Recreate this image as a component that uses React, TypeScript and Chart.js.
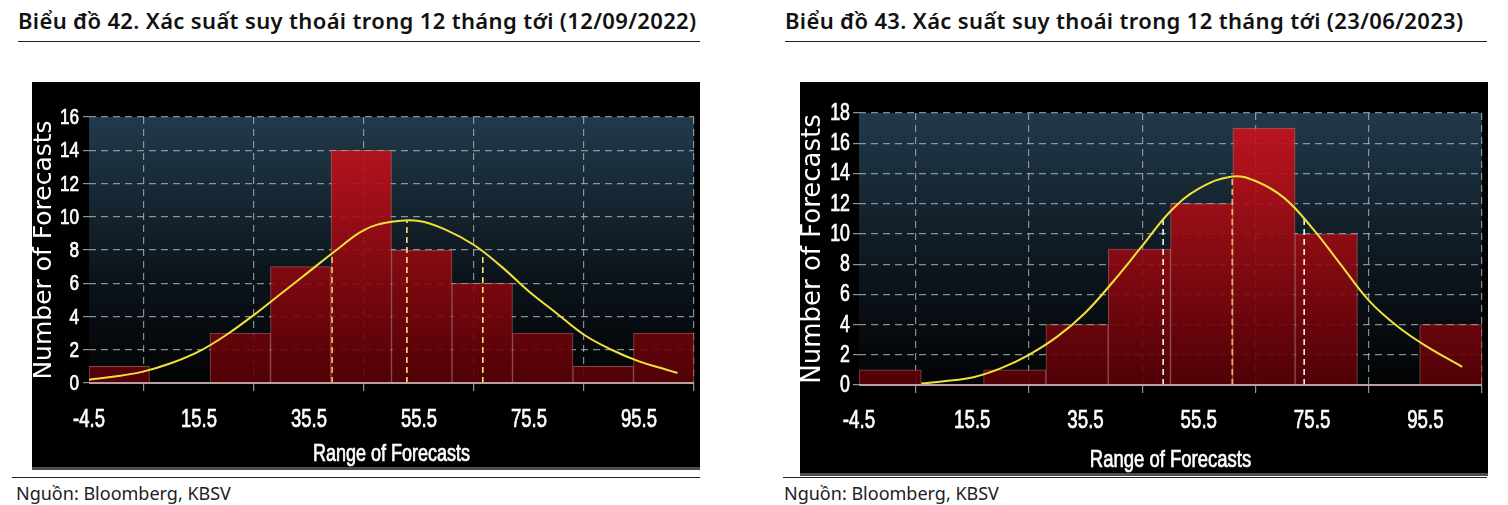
import { useEffect, useRef } from 'react';
import { Chart, registerables } from 'chart.js';

Chart.register(...registerables);

// shared x axis of both histograms
const X_TICKS = [-4.5, 15.5, 35.5, 55.5, 75.5, 95.5];
const BIN_CENTERS = [1, 12, 23, 34, 45, 56, 67, 78, 89, 100];

// Biểu đồ 42 (12/09/2022)
const COUNTS_2022 = [1, 0, 3, 7, 14, 8, 6, 3, 1, 3];
const CURVE_X_2022 = [-4.5, 0.5, 5.5, 10.5, 15.5, 20.5, 25.5, 30.5, 35.5, 40.5, 45.5, 50.5, 55.5, 60.5, 65.5, 70.5, 75.5, 80.5, 85.5, 90.5, 95.5, 100.5, 102.5];
const CURVE_Y_2022 = [0.2, 0.4, 0.7, 1.2, 1.9, 2.9, 4.1, 5.4, 6.7, 8.0, 9.2, 9.7, 9.75, 9.2, 8.3, 7.0, 5.5, 4.2, 2.9, 2.0, 1.3, 0.8, 0.6];
const QUART_X_2022 = [39.7, 53.3, 67.1];
const QUART_Y_2022 = [7.8, 9.8, 7.8];

// Biểu đồ 43 (23/06/2023)
const COUNTS_2023 = [1, 0, 1, 4, 9, 12, 17, 10, 0, 4];
const CURVE_X_2023 = [6.5, 10.5, 15.5, 20.5, 25.5, 30.5, 35.5, 40.5, 45.5, 50.5, 55.5, 61.4, 65.5, 70.5, 75.5, 80.5, 85.5, 90.5, 95.5, 102];
const CURVE_Y_2023 = [0.1, 0.25, 0.5, 1.1, 2.0, 3.2, 4.8, 6.9, 9.2, 11.5, 13.0, 13.8, 13.5, 12.4, 10.4, 8.0, 5.6, 3.9, 2.6, 1.2];
const QUART_X_2023 = [49.2, 61.4, 74.1];
const QUART_Y_2023 = [11.2, 13.8, 11.2];

const TEXT_FONT = "'Noto Sans', 'Open Sans', sans-serif";
const NARROW_BASE = "'Liberation Sans', Arial, sans-serif";

const backdrop = {
  id: 'backdrop',
  beforeDraw(chart: any) {
    const { ctx, chartArea: a } = chart;
    const g = ctx.createLinearGradient(0, a.top, 0, a.bottom);
    g.addColorStop(0, '#213a4b');
    g.addColorStop(0.6, '#0c141b');
    g.addColorStop(1, '#020304');
    ctx.save();
    ctx.fillStyle = g;
    ctx.fillRect(a.left, a.top, a.right - a.left, a.bottom - a.top);
    ctx.restore();
  },
  afterDatasetsDraw(chart: any) {
    const { ctx, chartArea: a } = chart;
    const y = chart.scales.y.getPixelForValue(0);
    ctx.save();
    ctx.strokeStyle = '#b8a0a0';
    ctx.lineWidth = 2;
    ctx.beginPath();
    ctx.moveTo(a.left, y);
    ctx.lineTo(a.right, y);
    ctx.stroke();
    ctx.restore();
  },
};

// Bloomberg uses a very condensed face; squeeze a regular sans horizontally
function narrowText(ctx: CanvasRenderingContext2D, text: string, x: number, y: number, size: number, sx: number, align: CanvasTextAlign) {
  ctx.save();
  ctx.translate(x, y);
  ctx.scale(sx, 1);
  ctx.font = `${size}px ${NARROW_BASE}`;
  ctx.textAlign = align;
  ctx.textBaseline = 'alphabetic';
  ctx.fillStyle = '#ffffff';
  ctx.strokeStyle = '#ffffff';
  ctx.lineWidth = 0.7;
  ctx.fillText(text, 0, 0);
  ctx.strokeText(text, 0, 0);
  ctx.restore();
}

interface HistProps {
  counts: number[];
  curveX: number[];
  curveY: number[];
  qx: number[];
  qy: number[];
  qColors: string[];
  yMax: number;
  width: number;
  height: number;
  pad: { left: number; top: number; right: number; bottom: number };
  yTitleSize: number;
  yLab: { size: number; sx: number; dx: number; dy: number };
  xLab: { size: number; sx: number; dy: number };
  xTitle: { size: number; sx: number; dy: number };
}

function HistChart(p: HistProps) {
  const canvasRef = useRef<HTMLCanvasElement>(null);
  const chartRef = useRef<Chart | null>(null);

  useEffect(() => {
    if (!canvasRef.current) return;
    if (chartRef.current) chartRef.current.destroy();

    const barFill = (c: any) => {
      const a = c.chart.chartArea;
      if (!a) return '#900';
      const g = c.chart.ctx.createLinearGradient(0, a.top, 0, a.bottom);
      g.addColorStop(0, 'rgba(210,18,28,0.9)');
      g.addColorStop(1, 'rgba(88,0,6,0.9)');
      return g;
    };

    const labels = {
      id: 'narrowLabels',
      afterDraw(chart: any) {
        const { ctx, chartArea: a, scales } = chart;
        scales.x.ticks.forEach((t: any) => {
          narrowText(ctx, String(t.value), scales.x.getPixelForValue(t.value), a.bottom + p.xLab.dy, p.xLab.size, p.xLab.sx, 'center');
        });
        scales.y.ticks.forEach((t: any) => {
          narrowText(ctx, String(t.value), a.left - p.yLab.dx, scales.y.getPixelForValue(t.value) + p.yLab.dy, p.yLab.size, p.yLab.sx, 'right');
        });
        narrowText(ctx, 'Range of Forecasts', (a.left + a.right) / 2, a.bottom + p.xTitle.dy, p.xTitle.size, p.xTitle.sx, 'center');
      },
    };

    const quartiles = p.qx.map((x, i) => ({
      type: 'line' as const,
      data: [{ x, y: 0 }, { x, y: p.qy[i] }],
      borderColor: p.qColors[i],
      borderWidth: 1.6,
      borderDash: [6, 4],
      pointRadius: 0,
      order: 1,
    }));

    chartRef.current = new Chart(canvasRef.current, {
      type: 'bar',
      data: {
        datasets: [
          {
            type: 'line',
            data: p.curveX.map((x, i) => ({ x, y: p.curveY[i] })),
            borderColor: '#f0e236',
            borderWidth: 2,
            tension: 0.4,
            pointRadius: 0,
            order: 0,
          },
          ...quartiles,
          {
            type: 'bar',
            data: BIN_CENTERS.map((x, i) => ({ x, y: p.counts[i] })),
            backgroundColor: barFill,
            borderColor: 'rgba(225,120,120,0.55)',
            borderWidth: 1,
            barPercentage: 1,
            categoryPercentage: 1,
            order: 2,
          },
        ] as any,
      },
      options: {
        animation: false,
        responsive: false,
        maintainAspectRatio: false,
        layout: { padding: { top: p.pad.top, right: p.pad.right, left: 0, bottom: 0 } },
        plugins: { legend: { display: false }, tooltip: { enabled: false } },
        scales: {
          x: {
            type: 'linear',
            min: -4.5,
            max: 105.5,
            offset: false,
            afterBuildTicks: (s: any) => { s.ticks = X_TICKS.map(v => ({ value: v })); },
            afterFit: (s: any) => { s.height = p.pad.bottom; },
            grid: { color: 'rgba(175,186,194,0.75)', lineWidth: 1.2, tickLength: 8, tickColor: 'rgba(175,186,194,0.8)' },
            border: { display: false, dash: [7, 5] },
            ticks: { display: false },
          },
          y: {
            min: 0,
            max: p.yMax,
            afterFit: (s: any) => { s.width = p.pad.left; },
            grid: { color: 'rgba(175,186,194,0.75)', lineWidth: 1.2, tickLength: 6, tickColor: 'rgba(175,186,194,0.8)' },
            border: { display: false, dash: [7, 5] },
            ticks: { stepSize: 2, display: false },
            title: {
              display: true,
              text: 'Number of Forecasts',
              color: '#ffffff',
              font: { family: "'DejaVu Sans', sans-serif", size: p.yTitleSize, lineHeight: 1 },
              padding: 0,
            },
          },
        },
      },
      plugins: [backdrop, labels],
    });

    return () => { chartRef.current?.destroy(); };
  }, [p]);

  return <canvas ref={canvasRef} width={p.width} height={p.height} style={{ display: 'block', width: p.width, height: p.height }} />;
}

const PANEL_1: HistProps = {
  counts: COUNTS_2022, curveX: CURVE_X_2022, curveY: CURVE_Y_2022,
  qx: QUART_X_2022, qy: QUART_Y_2022, qColors: ['#ffc04a', '#ffe36a', '#ffe36a'],
  yMax: 16, width: 668, height: 385,
  pad: { left: 57, top: 35, right: 6, bottom: 84 },
  yTitleSize: 25,
  yLab: { size: 22, sx: 0.78, dx: 10, dy: 7 },
  xLab: { size: 26, sx: 0.71, dy: 44 },
  xTitle: { size: 24, sx: 0.75, dy: 78 },
};

const PANEL_2: HistProps = {
  counts: COUNTS_2023, curveX: CURVE_X_2023, curveY: CURVE_Y_2023,
  qx: QUART_X_2023, qy: QUART_Y_2023, qColors: ['#f2f2f2', '#ffb45a', '#f2f2f2'],
  yMax: 18, width: 688, height: 391,
  pad: { left: 59, top: 31, right: 6, bottom: 88 },
  yTitleSize: 26,
  yLab: { size: 24, sx: 0.74, dx: 9, dy: 7 },
  xLab: { size: 26, sx: 0.72, dy: 43 },
  xTitle: { size: 24, sx: 0.77, dy: 82 },
};

const abs = (l: number, t: number, extra: React.CSSProperties = {}): React.CSSProperties => ({ position: 'absolute', left: l, top: t, ...extra });

const titleStyle: React.CSSProperties = { fontSize: 22, fontWeight: 600, letterSpacing: 0.35, color: '#111', whiteSpace: 'nowrap', lineHeight: '28px' };
const sourceStyle: React.CSSProperties = { fontSize: 18, color: '#222', whiteSpace: 'nowrap', lineHeight: '24px' };

export default function App() {
  return (
    <div style={{ position: 'absolute', left: 0, top: 0, width: 1508, height: 505, background: '#fff', overflow: 'hidden', fontFamily: TEXT_FONT }}>
      {/* left panel */}
      <div style={abs(18, 6, titleStyle)}>Biểu đồ 42. Xác suất suy thoái trong 12 tháng tới (12/09/2022)</div>
      <div style={abs(18, 41, { width: 682, height: 1, background: '#222' })} />
      <div style={abs(32, 82, { width: 668, height: 385, background: '#000', borderBottom: '3px solid #4d4d4d' })}>
        <HistChart {...PANEL_1} />
      </div>
      <div style={abs(12, 477, { width: 688, height: 1, background: '#222' })} />
      <div style={abs(16, 481, sourceStyle)}>Nguồn: Bloomberg, KBSV</div>

      {/* right panel */}
      <div style={abs(785, 6, titleStyle)}>Biểu đồ 43. Xác suất suy thoái trong 12 tháng tới (23/06/2023)</div>
      <div style={abs(785, 41, { width: 702, height: 1, background: '#222' })} />
      <div style={abs(800, 82, { width: 688, height: 391, background: '#000', borderBottom: '3px solid #4d4d4d' })}>
        <HistChart {...PANEL_2} />
      </div>
      <div style={abs(783, 477, { width: 704, height: 1, background: '#222' })} />
      <div style={abs(784, 481, sourceStyle)}>Nguồn: Bloomberg, KBSV</div>
    </div>
  );
}
